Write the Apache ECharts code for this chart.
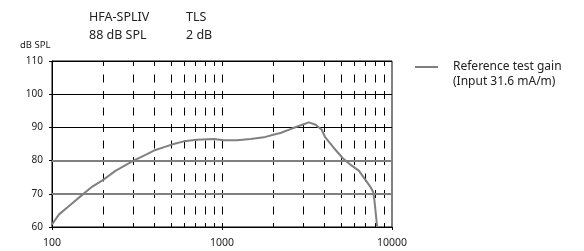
<!DOCTYPE html>
<html>
<head>
<meta charset="utf-8">
<script src="https://cdn.jsdelivr.net/npm/echarts@6/dist/echarts.min.js"></script>
<style>
  html, body { margin: 0; padding: 0; background: #fff; }
  #chart { width: 584px; height: 251px; }
</style>
</head>
<body>
<div id="chart"></div>
<script>
// frequency (Hz) and reference test gain (dB SPL)
var freqs = [100, 110, 128, 150, 172, 200, 236, 300, 355, 406, 466, 520, 596, 714, 895,
             1020, 1228, 1473, 1763, 2000, 2208, 2530, 2964, 3245, 3555, 3860, 4040,
             4550, 5140, 5720, 6380, 6980, 7480, 7740, 7880, 8180];
var gains = [60.8, 63.8, 66.6, 69.6, 72.1, 74.2, 76.9, 79.9, 81.7, 83.2, 84.2, 85.0, 85.8,
             86.3, 86.5, 86.1, 86.1, 86.5, 87.0, 87.8, 88.3, 89.5, 90.8, 91.5, 90.8, 89.3,
             87.1, 83.8, 80.7, 78.7, 77.0, 74.2, 72.0, 70.6, 68.1, 60];

// dashed vertical grid (log decades)
var minorFreqs = [200, 300, 400, 500, 600, 700, 800, 900, 1000,
                  2000, 3000, 4000, 5000, 6000, 7000, 8000, 9000];
// thicker grey horizontal lines
var greyLevels = [70, 80];

var seriesName = 'Reference test gain';
var fontFam = '"Noto Sans", sans-serif';
var txt = '#222';

var chart = echarts.init(document.getElementById('chart'), null, { renderer: 'canvas' });

var option = {
    animation: false,
    title: [
        { text: 'HFA-SPLIV', left: 89, top: 11, padding: 0, textStyle: { fontSize: 12.5, fontWeight: 'normal', color: txt, fontFamily: fontFam } },
        { text: '88 dB SPL', left: 89, top: 29, padding: 0, textStyle: { fontSize: 12.5, fontWeight: 'normal', color: txt, fontFamily: fontFam } },
        { text: 'TLS', left: 186, top: 11, padding: 0, textStyle: { fontSize: 12.5, fontWeight: 'normal', color: txt, fontFamily: fontFam } },
        { text: '2 dB', left: 186, top: 29, padding: 0, textStyle: { fontSize: 12.5, fontWeight: 'normal', color: txt, fontFamily: fontFam } },
        { text: 'dB SPL', left: 20, top: 40, padding: 0, textStyle: { fontSize: 9.5, fontWeight: 'normal', color: txt, fontFamily: fontFam } }
    ],
    legend: {
        left: 415,
        top: 61,
        padding: 0,
        icon: 'rect',
        itemWidth: 23,
        itemHeight: 2,
        data: [seriesName],
        textStyle: { fontSize: 12, color: txt, fontFamily: fontFam, padding: [0, 0, 0, 10] }
    },
    graphic: [
        { type: 'text', left: 453, top: 76, style: { text: '(Input 31.6 mA/m)', fontSize: 12, fill: txt, fontFamily: fontFam } }
    ],
    grid: {
        left: 52, right: 192, top: 61, bottom: 24,
        show: true, borderColor: '#000', borderWidth: 1, backgroundColor: 'transparent'
    },
    xAxis: {
        type: 'log',
        logBase: 10,
        min: 100,
        max: 10000,
        interval: 1,
        axisLine: { lineStyle: { color: '#000', width: 1 } },
        axisTick: { show: true, length: 3, lineStyle: { color: '#000' } },
        axisLabel: {
            fontSize: 10.5, color: txt, fontFamily: fontFam, margin: 11,
            formatter: function (v) { return String(Math.round(v)); }
        },
        splitLine: { show: false }
    },
    yAxis: {
        type: 'value',
        min: 60,
        max: 110,
        interval: 10,
        axisLine: { show: true, lineStyle: { color: '#000', width: 1 } },
        axisTick: { show: true, length: 3, lineStyle: { color: '#000' } },
        axisLabel: { fontSize: 10, color: txt, fontFamily: fontFam, margin: 9 },
        splitLine: { show: true, lineStyle: { color: '#000', width: 1 } }
    },
    series: [
        {
            type: 'line',
            name: 'grid',
            data: [],
            silent: true,
            z: 1,
            markLine: {
                silent: true,
                symbol: ['none', 'none'],
                label: { show: false },
                lineStyle: { color: '#000', width: 1, type: [8, 8.5], dashOffset: 4 },
                data: minorFreqs.map(function (f) { return { xAxis: f }; })
            }
        },
        {
            type: 'line',
            name: 'grey',
            data: [],
            silent: true,
            z: 2,
            markLine: {
                silent: true,
                symbol: ['none', 'none'],
                label: { show: false },
                lineStyle: { color: '#808080', width: 2, type: 'solid' },
                data: greyLevels.map(function (v) { return { yAxis: v }; })
            }
        },
        {
            type: 'line',
            name: seriesName,
            z: 5,
            showSymbol: false,
            smooth: false,
            itemStyle: { color: '#808080' },
            lineStyle: { color: '#808080', width: 2 },
            data: freqs.map(function (f, i) { return [f, gains[i]]; })
        }
    ]
};
option && chart.setOption(option);
</script>
</body>
</html>
